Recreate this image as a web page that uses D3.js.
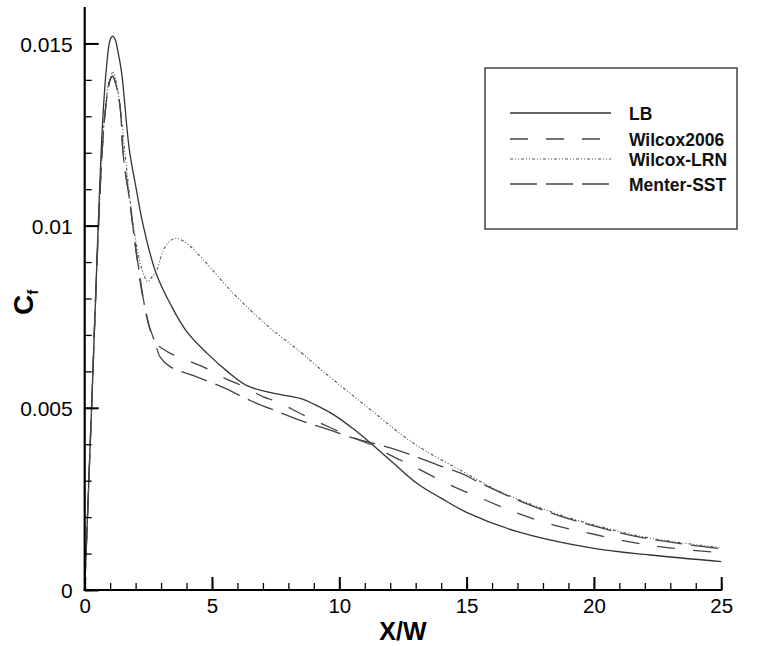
<!DOCTYPE html>
<html>
<head>
<meta charset="utf-8">
<script src="https://cdn.jsdelivr.net/npm/d3@7"></script>
<style>
  html, body { margin: 0; padding: 0; background: #fff; }
  svg { display: block; font-family: "Liberation Sans", Arial, Helvetica, sans-serif; }
</style>
</head>
<body>
<svg id="chart" width="771" height="646"></svg>
<script>
// Skin-friction coefficient along the wall, four turbulence models
const seriesNames = ["LB", "Wilcox2006", "Wilcox-LRN", "Menter-SST"];

const xLB = [0, 0.27, 0.53, 0.7, 0.85, 1.0, 1.1, 1.2, 1.3, 1.45, 1.75, 2.0, 2.3, 2.8, 3.4, 4.0, 4.8, 5.6, 6.4, 7.4, 8.5, 9.0, 9.8, 10.5, 11.2, 12.1, 13.1, 14.0, 15.0, 17.0, 20.0, 22.2, 25.0];
const yLB = [0, 0.0050, 0.0100, 0.0128, 0.0143, 0.0151, 0.0152, 0.0151, 0.0148, 0.0142, 0.0121, 0.0111, 0.0100, 0.0087, 0.0078, 0.0071, 0.0065, 0.0060, 0.0056, 0.0054, 0.00525, 0.0051, 0.0048, 0.00445, 0.00405, 0.0035, 0.0029, 0.00252, 0.00213, 0.0016, 0.00114, 0.00096, 0.00078];

const xW06 = [0, 0.27, 0.53, 0.7, 0.85, 1.0, 1.1, 1.25, 1.39, 1.52, 1.78, 1.98, 2.17, 2.35, 2.55, 2.7, 3.0, 3.35, 4.14, 4.79, 5.51, 6.1, 7.02, 7.54, 8.6, 9.7, 10.3, 11.2, 12.0, 12.9, 14.3, 15.8, 17.1, 18.5, 20.0, 21.4, 22.8, 25.0];
const yW06 = [0, 0.0050, 0.0098, 0.0122, 0.0134, 0.0140, 0.0141, 0.0138, 0.01326, 0.01189, 0.01061, 0.0095, 0.0085, 0.0078, 0.0072, 0.0068, 0.00665, 0.0065, 0.00627, 0.00608, 0.00581, 0.00563, 0.0053, 0.00517, 0.0048, 0.00444, 0.00425, 0.0040, 0.0037, 0.0034, 0.0029, 0.00245, 0.00208, 0.00177, 0.00153, 0.00132, 0.00117, 0.00102];

const xLRN = [0, 0.27, 0.53, 0.7, 0.85, 1.0, 1.12, 1.25, 1.4, 1.58, 1.91, 2.17, 2.35, 2.47, 2.65, 2.83, 3.09, 3.35, 3.61, 4.0, 4.66, 5.84, 7.15, 8.46, 9.38, 11.08, 12.91, 14.75, 16.19, 17.1, 18.68, 20.25, 21.8, 23.39, 25.0];
const yLRN = [0, 0.0049, 0.0097, 0.0122, 0.0135, 0.0141, 0.0142, 0.0139, 0.0132, 0.0120, 0.0100, 0.0090, 0.0086, 0.00846, 0.0086, 0.00878, 0.00933, 0.00958, 0.00965, 0.00952, 0.00906, 0.00814, 0.00727, 0.00654, 0.00599, 0.00503, 0.00403, 0.00329, 0.00274, 0.00247, 0.00206, 0.00174, 0.00148, 0.0013, 0.00116];

const xSST = [0, 0.27, 0.53, 0.7, 0.85, 1.0, 1.1, 1.25, 1.39, 1.52, 1.78, 1.98, 2.17, 2.3, 2.5, 2.63, 2.8, 2.96, 3.35, 4.4, 5.5, 6.5, 7.6, 8.6, 9.5, 10.5, 11.2, 12.0, 12.85, 13.8, 14.8, 15.53, 17.1, 18.68, 20.25, 21.8, 23.39, 25.0];
const ySST = [0, 0.0050, 0.0098, 0.0122, 0.0134, 0.0140, 0.0141, 0.0138, 0.01326, 0.01189, 0.01061, 0.0095, 0.0086, 0.0080, 0.0073, 0.00705, 0.0067, 0.0064, 0.00613, 0.00585, 0.00554, 0.0052, 0.00489, 0.00462, 0.00442, 0.00418, 0.00405, 0.0039, 0.0037, 0.00345, 0.0032, 0.00294, 0.00244, 0.00203, 0.00171, 0.00145, 0.00127, 0.00113];

const xMajorTicks = [0, 5, 10, 15, 20, 25];
const xMinorTicks = d3.range(0, 26, 1);
const yMajorTicks = [0, 0.005, 0.01, 0.015];
const yMinorTicks = d3.range(0, 16).map(i => i / 1000);
const yTickLabels = ["0", "0.005", "0.01", "0.015"];

// Drawing styles for each model
const styles = {
  "LB":         { dash: null,           color: "#333", width: 1.3 },
  "Wilcox2006": { dash: "18,18",        color: "#444", width: 1.3 },
  "Wilcox-LRN": { dash: "3,2,1,2,1,2",  color: "#555", width: 1.1 },
  "Menter-SST": { dash: "27,9",         color: "#444", width: 1.3 }
};

const series = [
  { name: "LB",         xs: xLB,  ys: yLB },
  { name: "Wilcox2006", xs: xW06, ys: yW06 },
  { name: "Wilcox-LRN", xs: xLRN, ys: yLRN },
  { name: "Menter-SST", xs: xSST, ys: ySST }
];

const svg = d3.select("#chart");

const x = d3.scaleLinear().domain([0, 25]).range([84.7, 721.2]);
const y = d3.scaleLinear().domain([0, 0.016]).range([590, 7]);

// Curves
const line = d3.line()
  .x(d => x(d[0]))
  .y(d => y(d[1]))
  .curve(d3.curveCatmullRom.alpha(0.5));

const curves = svg.append("g").attr("fill", "none");
series.forEach(s => {
  const st = styles[s.name];
  curves.append("path")
    .datum(s.xs.map((v, i) => [v, s.ys[i]]))
    .attr("d", line)
    .attr("stroke", st.color)
    .attr("stroke-width", st.width)
    .attr("stroke-dasharray", st.dash);
});

// Axes: inward ticks, majors longer than minors
const axisColor = "#000";

const xMinor = svg.append("g").attr("transform", `translate(0,${y(0)})`)
  .call(d3.axisBottom(x).tickValues(xMinorTicks).tickSize(-7).tickFormat(""));
const xMajor = svg.append("g").attr("transform", `translate(0,${y(0)})`)
  .call(d3.axisBottom(x).tickValues(xMajorTicks).tickSize(-13).tickPadding(8).tickFormat(d3.format("d")));

const yMinor = svg.append("g").attr("transform", `translate(${x(0)},0)`)
  .call(d3.axisLeft(y).tickValues(yMinorTicks).tickSize(-7).tickFormat(""));
const yMajor = svg.append("g").attr("transform", `translate(${x(0)},0)`)
  .call(d3.axisLeft(y).tickValues(yMajorTicks).tickSize(-14).tickPadding(12)
    .tickFormat((d, i) => yTickLabels[i]));

[xMinor, xMajor, yMinor, yMajor].forEach(g => {
  g.select(".domain").remove();
  g.selectAll(".tick line").attr("stroke", axisColor).attr("stroke-width", 1.3);
});
[xMajor, yMajor].forEach(g => g.selectAll(".tick line").attr("stroke-width", 2));

xMajor.selectAll(".tick text")
  .attr("font-size", 20.5).attr("fill", "#000")
  .attr("font-family", "Liberation Sans, Arial, sans-serif");
yMajor.selectAll(".tick text")
  .attr("font-size", 21).attr("fill", "#000")
  .attr("font-family", "Liberation Sans, Arial, sans-serif")
  .attr("dy", "0.36em");

// Axis lines
svg.append("line")
  .attr("x1", x(0)).attr("x2", x(0)).attr("y1", y(0) + 1).attr("y2", y(0.016))
  .attr("stroke", axisColor).attr("stroke-width", 2.2);
svg.append("line")
  .attr("x1", x(0) - 1).attr("x2", x(25) + 1).attr("y1", y(0)).attr("y2", y(0))
  .attr("stroke", axisColor).attr("stroke-width", 2.2);

// Axis titles
svg.append("text")
  .attr("x", (x(0) + x(25)) / 2).attr("y", 640)
  .attr("text-anchor", "middle")
  .attr("font-size", 25).attr("font-weight", "bold")
  .text("X/W");

const yTitle = svg.append("text")
  .attr("transform", "translate(33,315) rotate(-90)")
  .attr("font-size", 28).attr("font-weight", "bold");
yTitle.append("tspan").text("C");
yTitle.append("tspan").attr("font-size", 15).attr("dy", 5).text("f");

// Legend
const legend = svg.append("g");
legend.append("rect")
  .attr("x", 485).attr("y", 68).attr("width", 252).attr("height", 161)
  .attr("fill", "#fff").attr("stroke", "#444").attr("stroke-width", 1.5);

const legendRows = [113, 139, 159, 184];
seriesNames.forEach((name, i) => {
  const st = styles[name];
  legend.append("line")
    .attr("x1", 510).attr("x2", 611)
    .attr("y1", legendRows[i]).attr("y2", legendRows[i])
    .attr("stroke", st.color).attr("stroke-width", st.width)
    .attr("stroke-dasharray", st.dash);
  legend.append("text")
    .attr("x", 629).attr("y", legendRows[i] + 6.5)
    .attr("font-size", 17.5).attr("font-weight", "bold").attr("fill", "#111")
    .text(name);
});
</script>
</body>
</html>
